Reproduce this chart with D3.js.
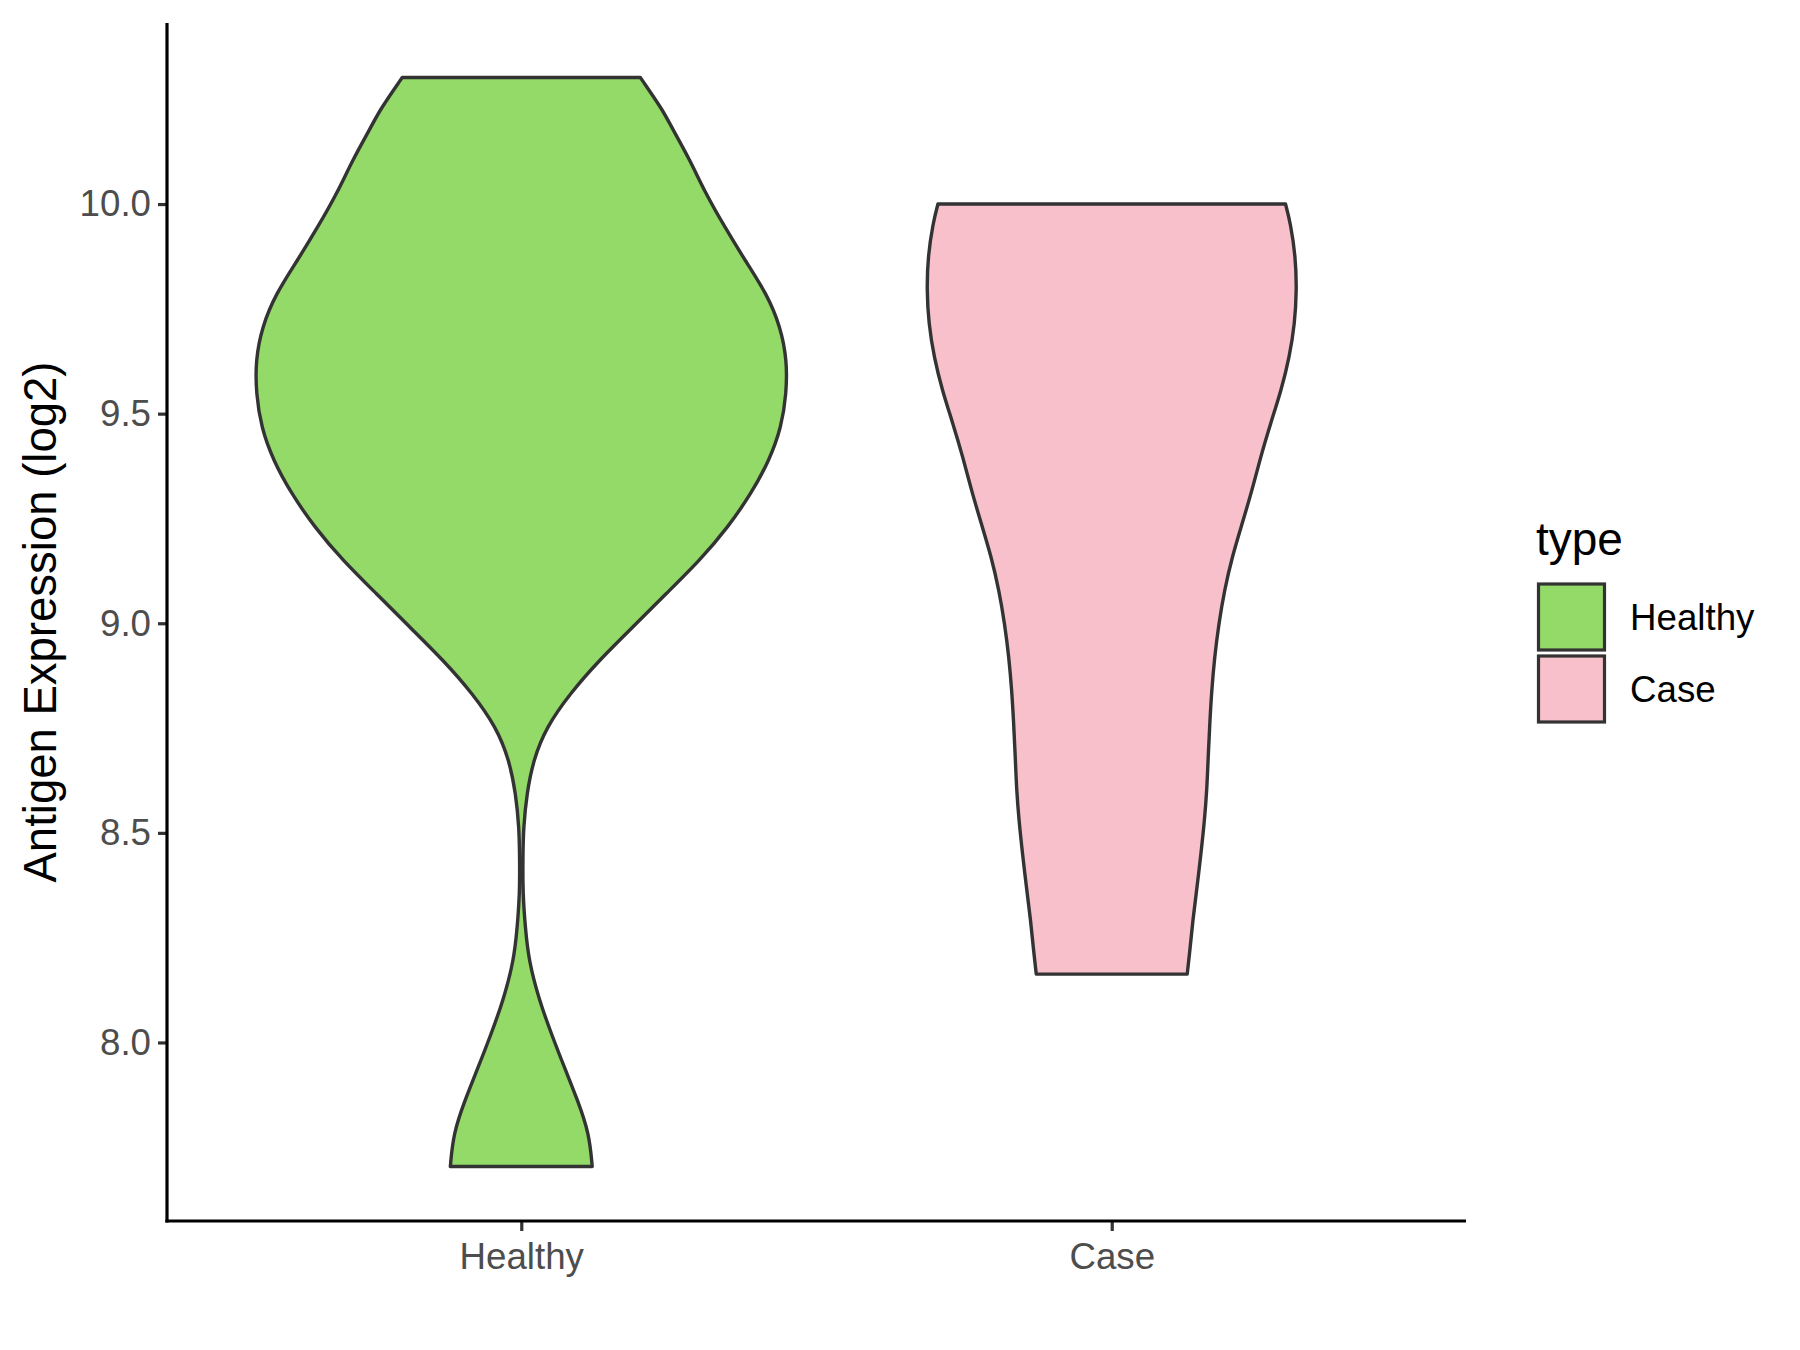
<!DOCTYPE html>
<html>
<head>
<meta charset="utf-8">
<script src="https://cdn.jsdelivr.net/npm/d3@7"></script>
<style>
  html, body { margin: 0; padding: 0; background: #ffffff; }
  svg { display: block; }
  text { font-family: "Liberation Sans", Arial, sans-serif; }
</style>
</head>
<body>
<script>
// ---- data ----
const categories = ["Healthy", "Case"];
const colors = ["#93DA69", "#F7C0CB"];

// density profiles: value (log2) and relative density
const healthyValues = [7.704, 7.782, 7.861, 7.941, 8.021, 8.100, 8.195, 8.275, 8.355, 8.434, 8.513, 8.594, 8.673, 8.752, 8.832, 8.911, 8.991, 9.071, 9.150, 9.229, 9.310, 9.389, 9.468, 9.548, 9.627, 9.707, 9.787, 9.866, 9.945, 10.026, 10.105, 10.184, 10.224, 10.302];
const healthyDensity = [0.267, 0.256, 0.213, 0.162, 0.113, 0.068, 0.028, 0.015, 0.006, 0.006, 0.008, 0.021, 0.045, 0.094, 0.183, 0.292, 0.420, 0.546, 0.672, 0.778, 0.866, 0.934, 0.979, 0.998, 1.000, 0.976, 0.923, 0.842, 0.766, 0.693, 0.635, 0.565, 0.533, 0.448];

const caseValues = [8.163, 8.212, 8.291, 8.370, 8.451, 8.529, 8.601, 8.681, 8.761, 8.838, 8.919, 8.999, 9.078, 9.158, 9.238, 9.317, 9.396, 9.477, 9.556, 9.635, 9.716, 9.794, 9.874, 9.954, 10.000];
const caseDensity = [0.284, 0.293, 0.305, 0.321, 0.336, 0.349, 0.358, 0.363, 0.369, 0.376, 0.387, 0.403, 0.424, 0.453, 0.491, 0.528, 0.560, 0.598, 0.638, 0.669, 0.689, 0.696, 0.692, 0.673, 0.654];

const yTicks = [8.0, 8.5, 9.0, 9.5, 10.0];
const yTitle = "Antigen Expression (log2)";
const legendTitle = "type";

// ---- layout ----
const W = 1800, H = 1350;
const panel = { left: 167, right: 1466, top: 23, bottom: 1221 };
const FONT = "'Liberation Sans', Arial, sans-serif";

const svg = d3.select("body").append("svg")
  .attr("width", W).attr("height", H)
  .attr("viewBox", `0 0 ${W} ${H}`);
svg.append("rect").attr("width", W).attr("height", H).attr("fill", "#ffffff");

const series = [
  { name: categories[0], color: colors[0], pts: healthyValues.map((v, i) => ({ v, d: healthyDensity[i] })) },
  { name: categories[1], color: colors[1], pts: caseValues.map((v, i) => ({ v, d: caseDensity[i] })) }
];

const allVals = healthyValues.concat(caseValues);
const [vmin, vmax] = d3.extent(allVals);
const pad = (vmax - vmin) * 0.05;

const x = d3.scalePoint().domain(categories).range([panel.left, panel.right]).padding(0.6);
const y = d3.scaleLinear().domain([vmin - pad, vmax + pad]).range([panel.bottom, panel.top]);
const maxD = d3.max(healthyDensity.concat(caseDensity));
const w = d3.scaleLinear().domain([0, maxD]).range([0, x.step() * 0.45]);

// ---- violins ----
series.forEach(s => {
  const cx = x(s.name);
  const area = d3.area()
    .y(p => y(p.v))
    .x0(p => cx - w(p.d))
    .x1(p => cx + w(p.d))
    .curve(d3.curveBasis);
  svg.append("path")
    .datum(s.pts)
    .attr("d", area)
    .attr("fill", s.color)
    .attr("stroke", "#333333")
    .attr("stroke-width", 3.4)
    .attr("stroke-linejoin", "round");
});

// ---- axes ----
const yAxis = d3.axisLeft(y).tickValues(yTicks).tickFormat(d3.format(".1f")).tickSize(9).tickPadding(7);
const gy = svg.append("g").attr("transform", `translate(${panel.left},0)`).call(yAxis);
gy.select(".domain").remove();
gy.selectAll(".tick line").attr("stroke", "#333333").attr("stroke-width", 3.2);
gy.selectAll(".tick text").attr("fill", "#4D4D4D").attr("font-size", 36.7)
  .attr("font-family", FONT);

const xAxis = d3.axisBottom(x).tickSize(10).tickPadding(12);
const gx = svg.append("g").attr("transform", `translate(0,${panel.bottom})`).call(xAxis);
gx.select(".domain").remove();
gx.selectAll(".tick line").attr("stroke", "#333333").attr("stroke-width", 3.2);
gx.selectAll(".tick text").attr("fill", "#4D4D4D").attr("font-size", 36.7)
  .attr("font-family", FONT)
  .attr("dy", "0.71em");

// axis lines
svg.append("line")
  .attr("x1", panel.left).attr("x2", panel.left)
  .attr("y1", panel.top).attr("y2", panel.bottom + 1.6)
  .attr("stroke", "#000000").attr("stroke-width", 3.2);
svg.append("line")
  .attr("x1", panel.left - 1.6).attr("x2", panel.right)
  .attr("y1", panel.bottom).attr("y2", panel.bottom)
  .attr("stroke", "#000000").attr("stroke-width", 3.2);

// y title
svg.append("text")
  .attr("transform", `translate(56,${(panel.top + panel.bottom) / 2}) rotate(-90)`)
  .attr("text-anchor", "middle")
  .attr("font-size", 45.5)
  .attr("fill", "#000000")
  .text(yTitle);

// ---- legend ----
const leg = svg.append("g");
leg.append("text")
  .attr("x", 1536).attr("y", 555)
  .attr("font-size", 46).attr("fill", "#000000")
  .text(legendTitle);
series.forEach((s, i) => {
  const top = 584 + i * 72;
  leg.append("rect")
    .attr("x", 1538.5).attr("y", top)
    .attr("width", 66).attr("height", 66)
    .attr("fill", s.color)
    .attr("stroke", "#333333").attr("stroke-width", 3.2);
  leg.append("text")
    .attr("x", 1630).attr("y", top + 33)
    .attr("dy", "0.36em")
    .attr("font-size", 36.7).attr("fill", "#000000")
    .text(s.name);
});
</script>
</body>
</html>
